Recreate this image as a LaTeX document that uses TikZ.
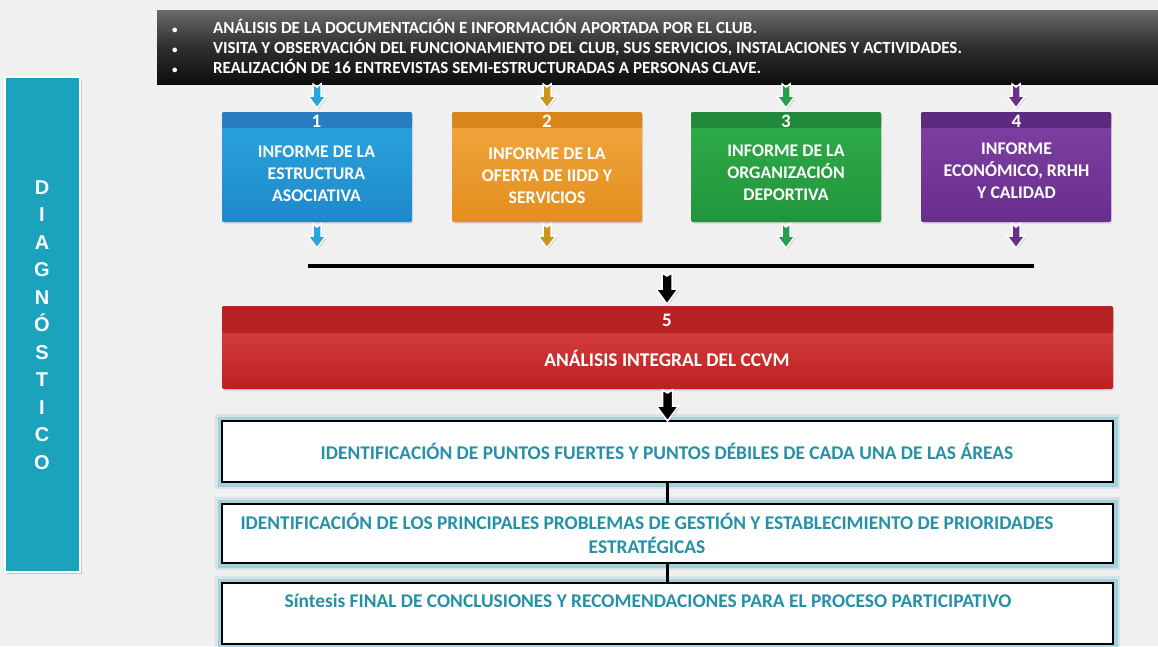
\documentclass[tikz,border=0pt]{standalone}
\usepackage{fontspec}
\setmainfont{Carlito}
\newfontfamily\arialb{Liberation Sans}
\usetikzlibrary{shadows,calc}
\definecolor{bg}{HTML}{F0F0F0}
\definecolor{bannertop}{HTML}{6A6A6A}
\definecolor{bannerbot}{HTML}{0E0E0E}
\definecolor{bluehd}{HTML}{2A7CC0}
\definecolor{bluetop}{HTML}{2BA6E0}
\definecolor{bluebot}{HTML}{1E88CA}
\definecolor{blueacc}{HTML}{2CA3DC}
\definecolor{orghd}{HTML}{D8861A}
\definecolor{orgtop}{HTML}{F2A83E}
\definecolor{orgbot}{HTML}{E38E1F}
\definecolor{orgacc}{HTML}{C9961C}
\definecolor{grnhd}{HTML}{23893A}
\definecolor{grntop}{HTML}{2FAD48}
\definecolor{grnbot}{HTML}{22953C}
\definecolor{grnacc}{HTML}{25A048}
\definecolor{purhd}{HTML}{5C2A7E}
\definecolor{purtop}{HTML}{7E42A2}
\definecolor{purbot}{HTML}{692E8D}
\definecolor{puracc}{HTML}{6B2F90}
\definecolor{redhd}{HTML}{B72325}
\definecolor{redtop}{HTML}{DA4A4A}
\definecolor{redbot}{HTML}{BE1F1F}
\definecolor{tealbar}{HTML}{1BA3BD}
\definecolor{tealtxt}{HTML}{2590A6}
\definecolor{glowc}{HTML}{3FA6BB}
\begin{document}
\begin{tikzpicture}[x=1pt,y=-1pt,
  every node/.style={inner sep=0pt, outer sep=0pt},
  shad/.style={drop shadow={opacity=.25, shadow xshift=1.2pt, shadow yshift=-1.5pt}},
  cbody/.style n args={2}{anchor=north west, minimum width=190, minimum height=110,
     rounded corners=2pt, top color=#1, bottom color=#2, shad},
  chead/.style={anchor=north west, minimum width=190, minimum height=16, rounded corners=2pt, fill=#1},
  ctext/.style={text=white, font=\fontsize{17.8}{22}\selectfont\bfseries, align=center},
  cnum/.style={text=white, font=\fontsize{19}{19}\selectfont\bfseries},
  barrow/.pic={\filldraw[fill=#1, draw=white, line width=1.5pt, line join=miter,
      drop shadow={opacity=.3, shadow xshift=1pt, shadow yshift=-1.5pt}]
      (-4,0) -- (0,3) -- (4,0) -- (4,12) -- (9,12) -- (0,24) -- (-9,12) -- (-4,12) -- cycle;},
  bigarrow/.pic={\filldraw[fill=black, draw=white, line width=1.5pt, line join=miter,
      drop shadow={opacity=.3, shadow xshift=1pt, shadow yshift=-1.5pt}]
      (-5,0) -- (0,3) -- (5,0) -- (5,16) -- (11,16) -- (0,31) -- (-11,16) -- (-5,16) -- cycle;},
  wbox/.style={anchor=north west, minimum width=891, fill=white, draw=black, line width=2.2pt,
     preaction={draw=glowc, line width=14pt, opacity=.15},
     preaction={draw=glowc, line width=9pt, opacity=.3}},
  wtext/.style={text=tealtxt, font=\fontsize{19.4}{24}\selectfont\bfseries, align=center},
]
\useasboundingbox (0,0) rectangle (1158,646);
\fill[bg] (0,0) rectangle (1158,646);

% left bar
\node[anchor=north west, minimum width=75, minimum height=495, fill=tealbar, draw=white,
  line width=2.5pt, drop shadow={opacity=.35, shadow xshift=1.5pt, shadow yshift=-2pt}] (bar) at (5,77) {};
\node[text=white, font=\arialb\fontsize{20}{27.5}\selectfont\bfseries, align=center] (bartxt) at (42,325)
  {D\\I\\A\\G\\N\\Ó\\S\\T\\I\\C\\O};

% banner
\node[anchor=north west, minimum width=1001, minimum height=74, top color=bannertop, bottom color=bannerbot,
  middle color=black!82] (banner) at (157,10) {};
\node[anchor=north west, text=white, align=left, font=\fontsize{17}{20}\selectfont\bfseries] (bantxt) at (172,19)
  {\makebox[41pt][l]{\fontsize{11}{11}\selectfont•}ANÁLISIS DE LA DOCUMENTACIÓN E INFORMACIÓN APORTADA POR EL CLUB.\\
   \makebox[41pt][l]{\fontsize{11}{11}\selectfont•}VISITA Y OBSERVACIÓN DEL FUNCIONAMIENTO DEL CLUB, SUS SERVICIOS, INSTALACIONES Y ACTIVIDADES.\\
   \makebox[41pt][l]{\fontsize{11}{11}\selectfont•}REALIZACIÓN DE 16 ENTREVISTAS SEMI-ESTRUCTURADAS A PERSONAS CLAVE.};

% four boxes
\node[cbody={bluetop}{bluebot}] (b1) at (222,112) {};
\node[chead=bluehd] (h1) at (222,112) {};
\node[cnum] (n1) at (316.5,121) {1};
\node[ctext] (t1) at (316.5,174) {INFORME DE LA\\ESTRUCTURA\\ASOCIATIVA};

\node[cbody={orgtop}{orgbot}] (b2) at (452,112) {};
\node[chead=orghd] (h2) at (452,112) {};
\node[cnum] (n2) at (547,121) {2};
\node[ctext] (t2) at (547,176) {INFORME DE LA\\OFERTA DE IIDD Y\\SERVICIOS};

\node[cbody={grntop}{grnbot}] (b3) at (691,112) {};
\node[chead=grnhd] (h3) at (691,112) {};
\node[cnum] (n3) at (786,121) {3};
\node[ctext] (t3) at (786,173) {INFORME DE LA\\ORGANIZACIÓN\\DEPORTIVA};

\node[cbody={purtop}{purbot}] (b4) at (921,112) {};
\node[chead=purhd] (h4) at (921,112) {};
\node[cnum] (n4) at (1016.5,121) {4};
\node[ctext] (t4) at (1016.5,171) {INFORME\\ECONÓMICO, RRHH\\Y CALIDAD};

% small arrows
\pic at (b1.north |- banner.south) {barrow=blueacc};
\pic at (b2.north |- banner.south) {barrow=orgacc};
\pic at (b3.north |- banner.south) {barrow=grnacc};
\pic at (b4.north |- banner.south) {barrow=puracc};
\pic at ($(b1.south)+(0,2)$) {barrow=blueacc};
\pic at ($(b2.south)+(0,2)$) {barrow=orgacc};
\pic at ($(b3.south)+(0,2)$) {barrow=grnacc};
\pic at ($(b4.south)+(0,2)$) {barrow=puracc};

% bus line
\coordinate (busL) at (308,266);
\coordinate (busR) at (1034,266);
\draw[line width=4pt, drop shadow={opacity=.3, shadow yshift=-1.5pt, shadow xshift=0pt}] (busL) -- (busR);

% red box
\node[anchor=north west, minimum width=891, minimum height=83, rounded corners=2pt,
  top color=redtop, bottom color=redbot, shad] (b5) at (222,306) {};
\node[anchor=north west, minimum width=891, minimum height=27, rounded corners=2pt, fill=redhd] (h5) at (222,306) {};
\node[cnum] (n5) at (667,320) {5};
\node[text=white, font=\fontsize{19.4}{22}\selectfont\bfseries] (t5) at (667,358) {ANÁLISIS INTEGRAL DEL CCVM};

\pic at (667,273) {bigarrow};

% white boxes
\node[wbox, minimum height=61] (wA) at (222,421) {};
\node[wbox, minimum height=59] (wB) at (222,504) {};
\node[wbox, minimum height=61] (wC) at (222,583) {};
\draw[line width=2.2pt] (wA.south) -- (wB.north);
\draw[line width=2.2pt] (wB.south) -- (wC.north);
\node[wtext] (tA) at (667,451) {IDENTIFICACIÓN DE PUNTOS FUERTES Y PUNTOS DÉBILES DE CADA UNA DE LAS ÁREAS};
\node[wtext] (tB) at (647,533) {IDENTIFICACIÓN DE LOS PRINCIPALES PROBLEMAS DE GESTIÓN Y ESTABLECIMIENTO DE PRIORIDADES\\ESTRATÉGICAS};
\node[wtext] (tC) at (648,601) {Síntesis FINAL DE CONCLUSIONES Y RECOMENDACIONES PARA EL PROCESO PARTICIPATIVO};

\pic at ($(b5.south)+(0,1)$) {bigarrow};
\end{tikzpicture}
\end{document}
